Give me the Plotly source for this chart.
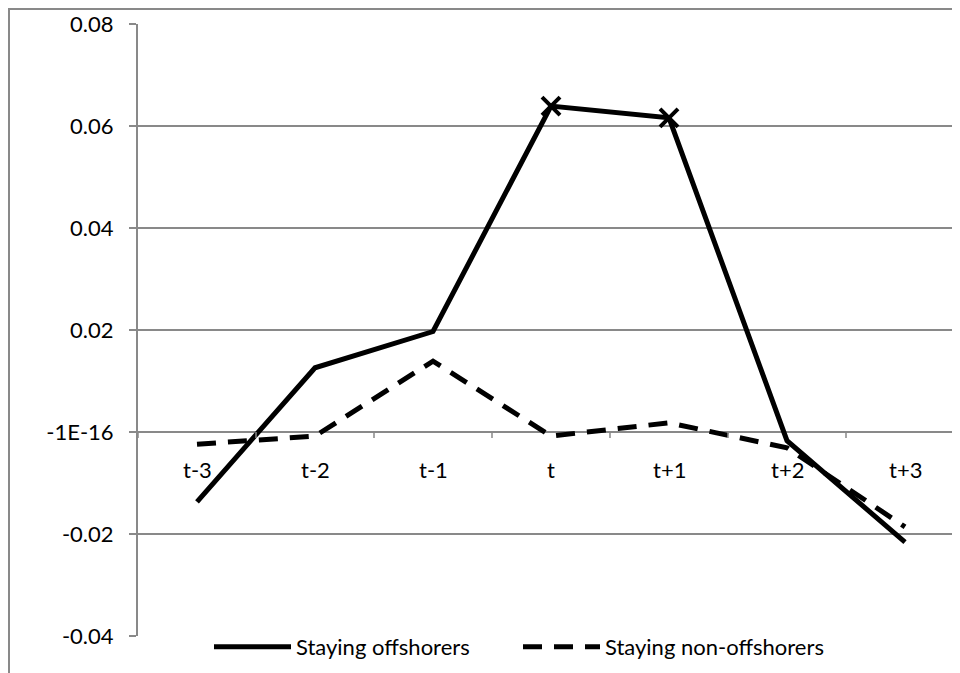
import plotly.graph_objects as go

categories = ["t-3", "t-2", "t-1", "t", "t+1", "t+2", "t+3"]
offshorers = [-0.0137, 0.0126, 0.0197, 0.0639, 0.0616, -0.0017, -0.0216]
non_offshorers = [-0.0024, -0.0008, 0.0139, -0.0008, 0.0018, -0.0031, -0.0186]
marked = ["t", "t+1"]
y_tick_vals = [-0.04, -0.02, 0.0, 0.02, 0.04, 0.06, 0.08]
y_tick_text = ["-0.04", "-0.02", "-1E-16", "0.02", "0.04", "0.06", "0.08"]

GRAY = "#898989"
FONT = "Lato"
FS = 22

# page body has an 8px margin; figure coordinates are offset accordingly
L, T, B, R = 130, 16, 45, 4
PW, PH = 960 - L - R, 673 - T - B

fig = go.Figure()
fig.add_trace(go.Scatter(
    x=categories, y=offshorers, mode="lines", name="Staying offshorers",
    line=dict(color="black", width=5), cliponaxis=False))
fig.add_trace(go.Scatter(
    x=categories, y=non_offshorers, mode="lines", name="Staying non-offshorers",
    line=dict(color="black", width=5, dash="19px,12px"), cliponaxis=False))
mx = [c for c in categories if c in marked]
my = [offshorers[categories.index(c)] for c in mx]
fig.add_trace(go.Scatter(
    x=mx, y=my, mode="markers", showlegend=False,
    marker=dict(symbol="x-thin", size=18, color="black",
                line=dict(color="black", width=4)), cliponaxis=False))

shapes = []
for i in range(len(categories)):
    shapes.append(dict(type="line", xref="x", yref="y", x0=i - 0.5, x1=i - 0.5,
                       ysizemode="pixel", yanchor=0, y0=0, y1=-6,
                       line=dict(color=GRAY, width=1.5)))
# outer chart border
shapes.append(dict(type="rect", xref="paper", yref="paper",
                   x0=(1 - L) / PW, x1=1.2, y0=-0.2, y1=1 + (T - 1) / PH,
                   line=dict(color=GRAY, width=2), layer="below"))

annotations = [dict(x=c, y=0, xref="x", yref="y", text=c, showarrow=False,
                    yshift=-37, font=dict(family=FONT, size=FS, color="black"))
               for c in categories]

fig.update_layout(
    width=960, height=673,
    margin=dict(l=L, r=R, t=T, b=B, autoexpand=False),
    paper_bgcolor="white", plot_bgcolor="white",
    font=dict(family=FONT, size=FS, color="black"),
    shapes=shapes, annotations=annotations,
    showlegend=True,
    legend=dict(orientation="h", x=(201 - L) / PW, xanchor="left",
                y=-(639 - (T + PH)) / PH, yanchor="middle", itemwidth=77,
                entrywidth=217, entrywidthmode="pixels",
                font=dict(family=FONT, size=FS, color="black"),
                bgcolor="rgba(0,0,0,0)"),
    xaxis=dict(type="category", range=[-0.5, 6.5], showticklabels=False,
               showgrid=False, zeroline=False, showline=False, ticks=""),
    yaxis=dict(range=[-0.04, 0.08], tickvals=y_tick_vals, ticktext=y_tick_text,
               showgrid=True, gridcolor=GRAY, gridwidth=1.5, zeroline=False,
               showline=True, linecolor=GRAY, linewidth=2,
               ticks="outside", ticklen=7, tickcolor=GRAY, tickwidth=1.5,
               ticklabelstandoff=11,
               tickfont=dict(family=FONT, size=FS, color="black")),
)

fig.write_html("out.html")
